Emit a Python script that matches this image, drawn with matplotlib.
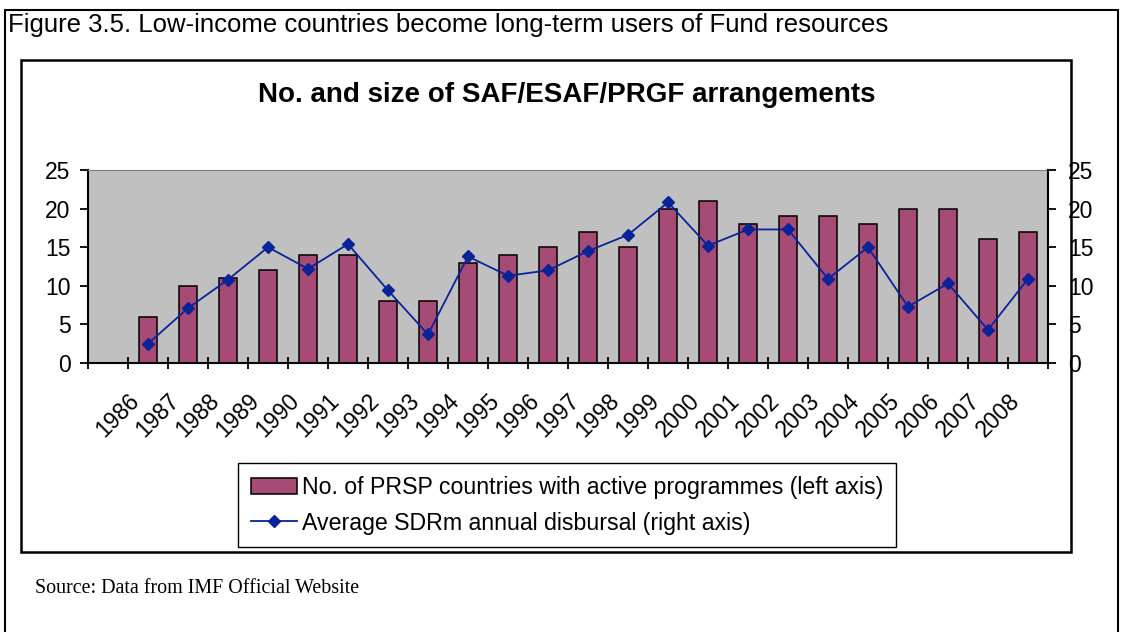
import numpy as np
import matplotlib
matplotlib.use('Agg')
import matplotlib.pyplot as plt
from matplotlib.patches import Rectangle

plt.rcParams['font.family'] = ['Liberation Sans', 'DejaVu Sans']

# data (first category slot on the axis is empty)
years = ['1986', '1987', '1988', '1989', '1990', '1991', '1992', '1993',
         '1994', '1995', '1996', '1997', '1998', '1999', '2000', '2001',
         '2002', '2003', '2004', '2005', '2006', '2007', '2008']
countries = [6, 10, 11, 12, 14, 14, 8, 8, 13, 14, 15, 17, 15, 20, 21, 18,
             19, 19, 18, 20, 20, 16, 17]
disbursal = [2.5, 7.1, 10.8, 15.0, 12.2, 15.4, 9.4, 3.7, 13.8, 11.3, 12.0,
             14.5, 16.6, 20.8, 15.2, 17.3, 17.3, 10.9, 15.0, 7.3, 10.3, 4.3,
             10.9]

W, H = 1122, 632
x = np.arange(1, len(years) + 1)

fig = plt.figure(figsize=(W / 100, H / 100), dpi=100)

# boxes around figure and chart
fig.add_artist(Rectangle((5 / W, -0.1), 1113 / W, 1 - 10 / H + 0.1,
                         transform=fig.transFigure, fill=False,
                         ec='black', lw=1.5))
fig.add_artist(Rectangle((21 / W, 1 - 552 / H), 1050 / W, 492 / H,
                         transform=fig.transFigure, fill=False,
                         ec='black', lw=1.8))

fig.text(8 / W, 1 - 32 / H,
         'Figure 3.5. Low-income countries become long-term users of Fund resources',
         fontsize=18.5, ha='left', va='baseline')
fig.text(567 / W, 1 - 102 / H, 'No. and size of SAF/ESAF/PRGF arrangements',
         fontsize=20, fontweight='bold', ha='center', va='baseline')
fig.text(35 / W, 1 - 593 / H, 'Source: Data from IMF Official Website',
         fontsize=14.4, family='Liberation Serif', ha='left', va='baseline')

ax = fig.add_axes([88 / W, 1 - 363 / H, 960 / W, 193 / H])
ax.set_facecolor('#C0C0C0')
bars = ax.bar(x, countries, width=0.47, color='#A64A76', edgecolor='black',
              linewidth=1.1)
ax.set_xlim(-0.5, len(years) + 0.5)
ax.set_ylim(0, 25)
ax.set_yticks(range(0, 26, 5))
ax.set_xticks(np.arange(-0.5, len(years) + 1))
ax.set_xticklabels([])
# year labels sit a little left of the bar centres, as in the source
ax.set_xticks(x - 0.3, years, minor=True, rotation=45, ha='right',
              va='center', rotation_mode='anchor')
ax.tick_params(axis='x', which='major', direction='inout', length=9,
               width=1.3)
ax.tick_params(axis='x', which='minor', length=0, pad=25, labelsize=16.5)
ax.tick_params(axis='y', length=6, width=1.3, pad=6.5, labelsize=16.5)
ax.spines['top'].set_color('#808080')
ax.spines['right'].set_visible(False)
ax.spines['left'].set_linewidth(1.5)
ax.spines['bottom'].set_linewidth(1.5)

ax2 = ax.twinx()
line, = ax2.plot(x, disbursal, color='#0A2399', lw=1.3, marker='D', ms=6)
ax2.set_ylim(0, 25)
ax2.set_yticks(range(0, 26, 5))
ax2.tick_params(axis='y', direction='out', length=6, width=1.3, pad=8.5,
                labelsize=16.5)
for s in ['top', 'left', 'bottom']:
    ax2.spines[s].set_visible(False)
ax2.spines['right'].set_linewidth(1.5)

leg = fig.legend([bars, line],
                 ['No. of PRSP countries with active programmes (left axis)',
                  'Average SDRm annual disbursal (right axis)'],
                 loc='upper left', bbox_to_anchor=(238 / W, 1 - 463 / H),
                 fancybox=False, edgecolor='black', framealpha=1,
                 fontsize=16.7, handlelength=2.0, handletextpad=0.2,
                 labelspacing=0.55, borderpad=0.55, borderaxespad=0)
leg.get_frame().set_linewidth(1.0)

fig.savefig('out.png', dpi=100)
